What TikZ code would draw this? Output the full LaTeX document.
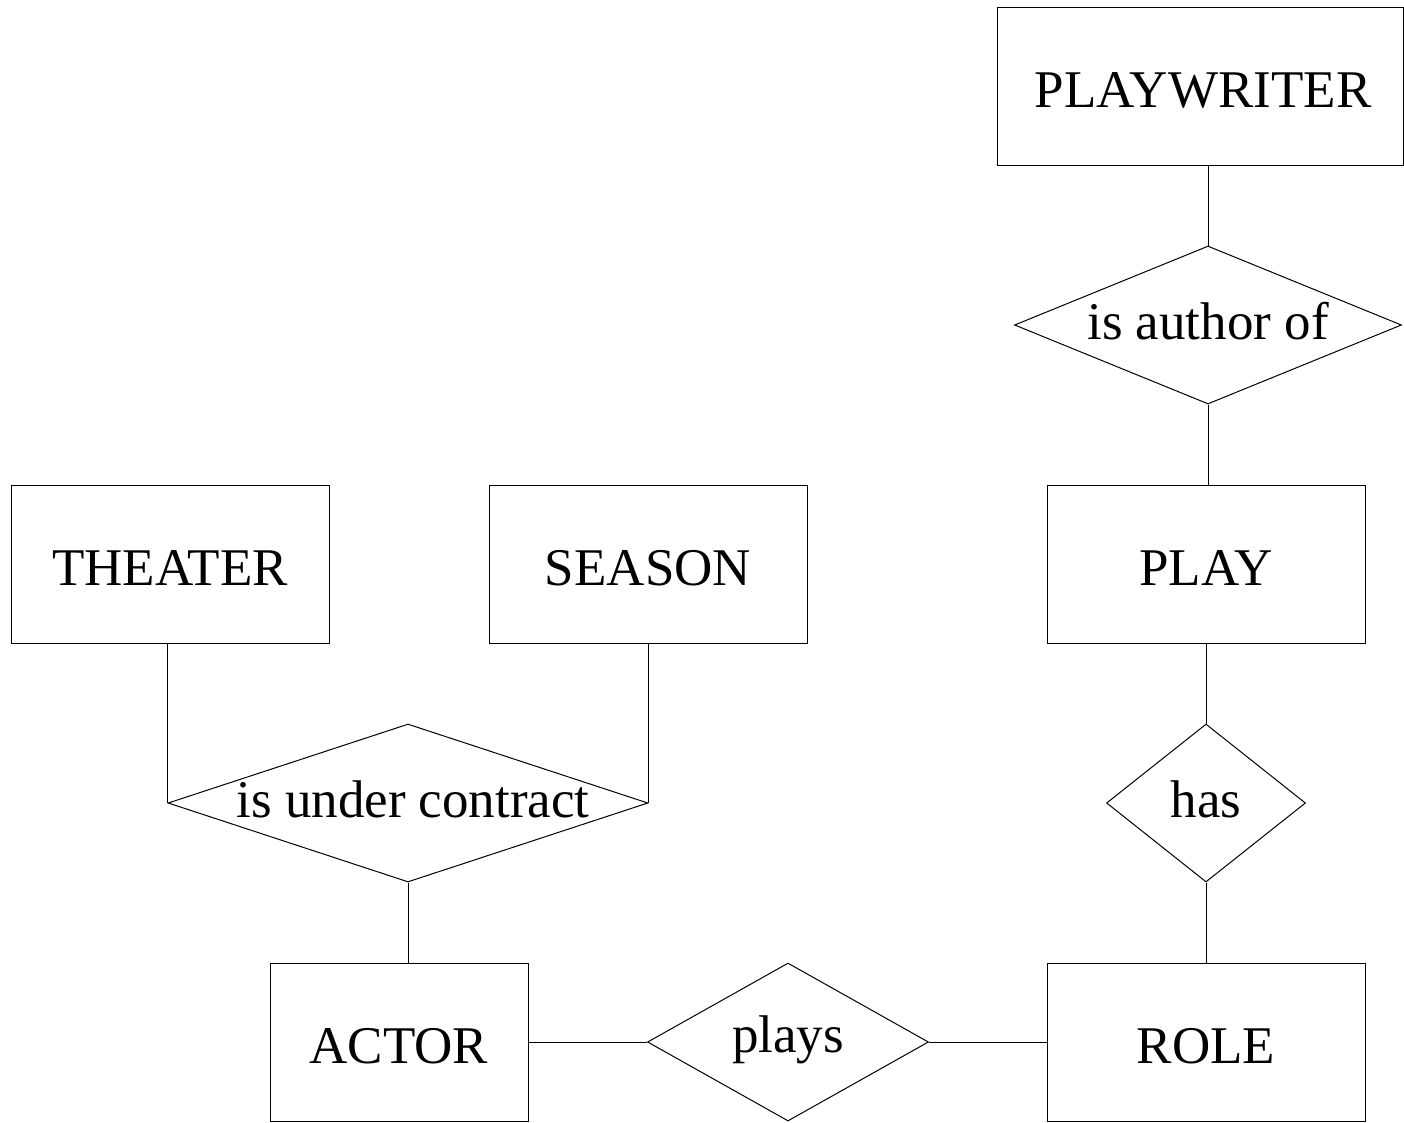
\documentclass[tikz,border=0pt]{standalone}
\usepackage{fontspec}
\setmainfont{Liberation Serif}
\usetikzlibrary{shapes.geometric}
\begin{document}
\begin{tikzpicture}[x=1pt,y=-1pt,line width=1pt,
  ent/.style={draw,rectangle,inner sep=0pt,minimum width=318pt,minimum height=158pt,text height=43pt,text depth=0pt,font=\fontsize{53}{60}\selectfont},
  rel/.style={draw,diamond,inner sep=0pt,aspect=1},
  lbl/.style={inner sep=0pt,font=\fontsize{53}{60}\selectfont}]
\useasboundingbox (0,0) rectangle (1404,1122);
\node[ent,minimum width=406pt] (pw) at (1200,86) {\hspace*{6pt}PLAYWRITER};
\node[ent] (th) at (170,564) {THEATER};
\node[ent] (ss) at (648,564) {SEASON};
\node[ent] (pl) at (1206,564) {PLAY};
\node[ent,minimum width=258pt] (ac) at (399,1042) {ACTOR};
\node[ent] (ro) at (1206,1042) {ROLE};
\node[rel,minimum width=387pt,minimum height=158pt] (au) at (1208,325) {};
\node[lbl] (aut) at (1208,321) {is author of};
\node[rel,minimum width=480pt,minimum height=158pt] (co) at (408,803) {};
\node[lbl] (cot) at (413,799) {is under contract};
\node[rel,minimum width=199pt,minimum height=158pt] (ha) at (1206,803) {};
\node[lbl] (hat) at (1206,799) {has};
\node[rel,minimum width=281pt,minimum height=158pt] (py) at (788,1042) {};
\node[lbl] (pyt) at (788,1040) {plays};
\draw (au.north |- pw.south) -- (au.north);
\draw (au.south) -- (au.south |- pl.north);
\draw (pl.south) -- (ha.north);
\draw (ha.south) -- (ro.north);
\draw (th.south -| co.west) -- (co.west);
\draw (ss.south -| co.east) -- (co.east);
\draw (co.south) -- (co.south |- ac.north);
\draw (ac.east) -- (py.west);
\draw (py.east) -- (ro.west);
\end{tikzpicture}
\end{document}
